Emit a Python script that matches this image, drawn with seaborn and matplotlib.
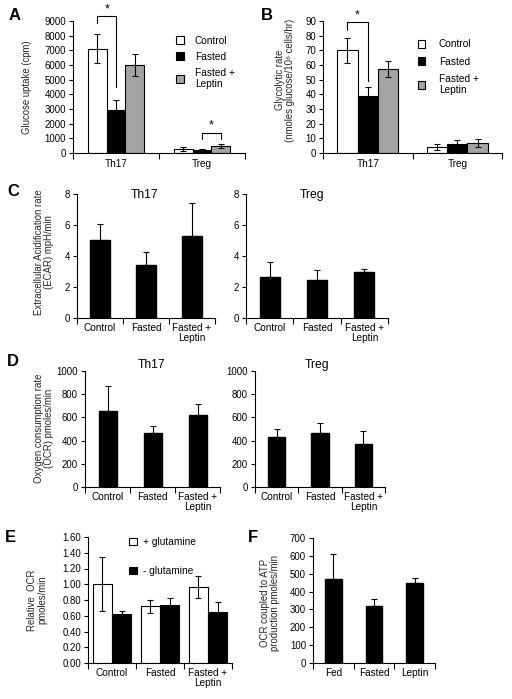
import numpy as np
import pandas as pd
import matplotlib
matplotlib.use("Agg")
import matplotlib.pyplot as plt
from matplotlib.ticker import MultipleLocator, FormatStrFormatter, FixedLocator
import seaborn as sns

# ---------------- data ----------------
cells_ab = ["Th17", "Treg"]
conditions = ["Control", "Fasted", "Fasted +\nLeptin"]

# Panel A: glucose uptake (cpm)
uptake_th17 = [7100, 2930, 6000]
uptake_th17_err = [980, 680, 730]
uptake_treg = [270, 205, 475]
uptake_treg_err = [135, 50, 110]

# Panel B: glycolytic rate
glyco_th17 = [70.0, 39.0, 57.5]
glyco_th17_err = [8.3, 5.7, 5.5]
glyco_treg = [4.1, 5.9, 6.8]
glyco_treg_err = [2.2, 3.0, 2.5]

# Panel C: ECAR
ecar_th17 = [5.0, 3.42, 5.31]
ecar_th17_err = [1.06, 0.82, 2.13]
ecar_treg = [2.62, 2.47, 2.99]
ecar_treg_err = [1.01, 0.65, 0.15]

# Panel D: OCR
ocr_th17 = [657, 467, 622]
ocr_th17_err = [216, 55, 93]
ocr_treg = [435, 467, 375]
ocr_treg_err = [64, 86, 112]

# Panel E: relative OCR +/- glutamine
glut_labels = ["+ glutamine", "- glutamine"]
rel_ocr_plus = [1.00, 0.72, 0.96]
rel_ocr_plus_err = [0.34, 0.08, 0.14]
rel_ocr_minus = [0.625, 0.74, 0.65]
rel_ocr_minus_err = [0.03, 0.09, 0.12]

# Panel F: OCR coupled to ATP production
f_cats = ["Fed", "Fasted", "Leptin"]
atp_ocr = [473, 321, 448]
atp_ocr_err = [137, 35, 27]

# ---------------- style ----------------
sns.set_theme(style="ticks")
plt.rcParams["font.family"] = ["Liberation Sans", "DejaVu Sans"]
plt.rcParams["axes.linewidth"] = 0.8
plt.rcParams["axes.edgecolor"] = "black"
plt.rcParams["xtick.color"] = "black"
plt.rcParams["ytick.color"] = "black"
plt.rcParams["text.color"] = "black"

W, H = 512, 699
fig = plt.figure(figsize=(W / 100, H / 100), dpi=100)

def add_ax(l, t, r, b):
    return fig.add_axes([l / W, 1 - b / H, (r - l) / W, (b - t) / H])

TICK_FS = 6.9
GRAY = "#a3a3a3"

def style_ax(ax, n, ymax, ystep, fmt=None, xpad=3.5):
    sns.despine(ax=ax)
    ax.set_xlim(-0.5, n - 0.5)
    ax.set_ylim(0, ymax)
    ax.yaxis.set_major_locator(MultipleLocator(ystep))
    if fmt:
        ax.yaxis.set_major_formatter(FormatStrFormatter(fmt))
    ax.xaxis.set_minor_locator(FixedLocator(np.arange(-0.5, n, 1.0)))
    ax.tick_params(axis="x", which="major", length=0, pad=xpad, labelsize=TICK_FS + 0.3)
    ax.tick_params(axis="x", which="minor", length=4, width=0.8, direction="out")
    ax.tick_params(axis="y", length=3, width=0.8, direction="out", pad=2, labelsize=TICK_FS)
    for lab in ax.get_xticklabels():
        lab.set_linespacing(1.05)
    ax.set_xlabel("")
    ax.set_facecolor("none")

def place_ylabel(ax, text, px, py, box, fs=TICK_FS):
    l, t, r, b = box
    ax.set_ylabel(text, fontsize=fs, linespacing=1.05)
    ax.yaxis.set_label_coords((px - l) / (r - l), (b - py) / (b - t))
    lab = ax.yaxis.label
    lab.set_verticalalignment("center")
    lab.set_rotation_mode("default")

def add_errors(ax, errs_per_container, two_sided=True):
    for cont, errs in zip(ax.containers, errs_per_container):
        xs = [p.get_x() + p.get_width() / 2 for p in cont]
        hs = [p.get_height() for p in cont]
        if two_sided:
            yerr = errs
        else:
            yerr = [np.zeros(len(errs)), errs]
        ax.errorbar(xs, hs, yerr=yerr, fmt="none", ecolor="black",
                    elinewidth=0.8, capsize=2.3, capthick=0.8, zorder=5)

def bracket(ax, x1, x2, y_top, y1, y2, star_y):
    ax.plot([x1, x1, x2, x2], [y1, y_top, y_top, y2], color="black", lw=0.8,
            clip_on=False, zorder=6)
    ax.text((x1 + x2) / 2, star_y, "*", ha="center", va="center", fontsize=9,
            clip_on=False)

def panel_letter(px, py, s):
    fig.text(px / W, 1 - py / H, s, fontsize=12, fontweight="bold",
             ha="center", va="center")

# ---------------- Panel A ----------------
boxA = (73, 21, 245, 153)
axA = add_ax(*boxA)
dfA = pd.DataFrame({
    "cell": np.repeat(cells_ab, 3),
    "condition": conditions * 2,
    "value": uptake_th17 + uptake_treg,
})
errA = [[uptake_th17_err[i], uptake_treg_err[i]] for i in range(3)]
sns.barplot(data=dfA, x="cell", y="value", hue="condition", hue_order=conditions,
            palette=["white", "black", GRAY], edgecolor="black", linewidth=0.8,
            width=0.65, errorbar=None, saturation=1, ax=axA)
add_errors(axA, errA)
style_ax(axA, 2, 9000, 1000, xpad=4.5)
place_ylabel(axA, "Glucose uptake (cpm)", 27, 87, boxA)
hA, lA = axA.get_legend_handles_labels()
axA.legend(hA, lA, loc="upper left", bbox_to_anchor=(0.6, 0.89), frameon=False,
           fontsize=7.3, handlelength=0.75, handleheight=0.75, handletextpad=1.1,
           labelspacing=0.6, borderaxespad=0, borderpad=0)
wA = 0.65 / 3
bracket(axA, -wA, 0.0, 9340, 8860, 4500, 9780)
bracket(axA, 1.0, 1.0 + wA, 1370, 950, 950, 1850)
panel_letter(15, 15, "A")

# ---------------- Panel B ----------------
boxB = (323, 21, 502, 153)
axB = add_ax(*boxB)
dfB = pd.DataFrame({
    "cell": np.repeat(cells_ab, 3),
    "condition": conditions * 2,
    "value": glyco_th17 + glyco_treg,
})
errB = [[glyco_th17_err[i], glyco_treg_err[i]] for i in range(3)]
sns.barplot(data=dfB, x="cell", y="value", hue="condition", hue_order=conditions,
            palette=["white", "black", GRAY], edgecolor="black", linewidth=0.8,
            width=0.68, errorbar=None, saturation=1, ax=axB)
add_errors(axB, errB)
style_ax(axB, 2, 90, 10, xpad=4.5)
place_ylabel(axB, "Glycolytic rate\n(nmoles glucose/10⁶ cells/hr)", 285, 80, boxB)
hB, lB = axB.get_legend_handles_labels()
axB.legend(hB, lB, loc="upper left", bbox_to_anchor=(0.53, 0.86), frameon=False,
           fontsize=7.3, handlelength=0.75, handleheight=0.75, handletextpad=1.3,
           labelspacing=0.7, borderaxespad=0, borderpad=0)
wB = 0.68 / 3
bracket(axB, -wB, 0.0, 89.3, 84, 49, 94)
panel_letter(267, 15, "B")

# ---------------- Panel C ----------------
boxC1 = (77, 194, 215, 318)
boxC2 = (246, 194, 388, 318)
for box, vals, errs, title, tx in [(boxC1, ecar_th17, ecar_th17_err, "Th17", 145),
                                   (boxC2, ecar_treg, ecar_treg_err, "Treg", 312)]:
    ax = add_ax(*box)
    sns.barplot(x=conditions, y=vals, color="black", edgecolor="black",
                width=0.42, errorbar=None, saturation=1, ax=ax)
    add_errors(ax, [errs], two_sided=False)
    style_ax(ax, 3, 8, 2)
    ax.text((tx - box[0]) / (box[2] - box[0]), 0.99, title, transform=ax.transAxes,
            ha="center", va="center", fontsize=8.7)
    if title == "Th17":
        place_ylabel(ax, "Extracellular Acidification rate\n(ECAR) mpH/min", 44, 252, box)
panel_letter(13, 192, "C")

# ---------------- Panel D ----------------
boxD1 = (85, 371, 220, 487)
boxD2 = (255, 371, 385, 487)
for box, vals, errs, title, tx in [(boxD1, ocr_th17, ocr_th17_err, "Th17", 152),
                                   (boxD2, ocr_treg, ocr_treg_err, "Treg", 317)]:
    ax = add_ax(*box)
    sns.barplot(x=conditions, y=vals, color="black", edgecolor="black",
                width=0.40, errorbar=None, saturation=1, ax=ax)
    add_errors(ax, [errs], two_sided=False)
    style_ax(ax, 3, 1000, 200)
    ax.text((tx - box[0]) / (box[2] - box[0]), 1.05, title, transform=ax.transAxes,
            ha="center", va="center", fontsize=8.7)
    if title == "Th17":
        place_ylabel(ax, "Oxygen consumption rate\n(OCR) pmoles/min", 44, 428, box)
panel_letter(13, 362, "D")

# ---------------- Panel E ----------------
boxE = (88, 537, 232, 663)
axE = add_ax(*boxE)
dfE = pd.DataFrame({
    "condition": conditions * 2,
    "glutamine": np.repeat(glut_labels, 3),
    "value": rel_ocr_plus + rel_ocr_minus,
})
sns.barplot(data=dfE, x="condition", y="value", hue="glutamine", hue_order=glut_labels,
            palette=["white", "black"], edgecolor="black", linewidth=0.8,
            width=0.8, errorbar=None, saturation=1, ax=axE)
add_errors(axE, [rel_ocr_plus_err, rel_ocr_minus_err])
style_ax(axE, 3, 1.6, 0.2, fmt="%.2f")
place_ylabel(axE, "Relative  OCR\npmoles/min", 37, 600, boxE)
hE, lE = axE.get_legend_handles_labels()
axE.legend(hE, lE, loc="upper left", bbox_to_anchor=(0.285, 1.0), frameon=False,
           fontsize=7.3, handlelength=0.75, handleheight=0.75, handletextpad=0.6,
           labelspacing=1.9, borderaxespad=0, borderpad=0)
panel_letter(10, 537, "E")

# ---------------- Panel F ----------------
boxF = (313, 538, 435, 663)
axF = add_ax(*boxF)
sns.barplot(x=f_cats, y=atp_ocr, color="black", edgecolor="black",
            width=0.41, errorbar=None, saturation=1, ax=axF)
add_errors(axF, [atp_ocr_err], two_sided=False)
style_ax(axF, 3, 700, 100)
place_ylabel(axF, "OCR coupled to ATP\nproduction pmoles/min", 270, 603, boxF)
panel_letter(253, 538, "F")

fig.savefig("out.png", dpi=100)
